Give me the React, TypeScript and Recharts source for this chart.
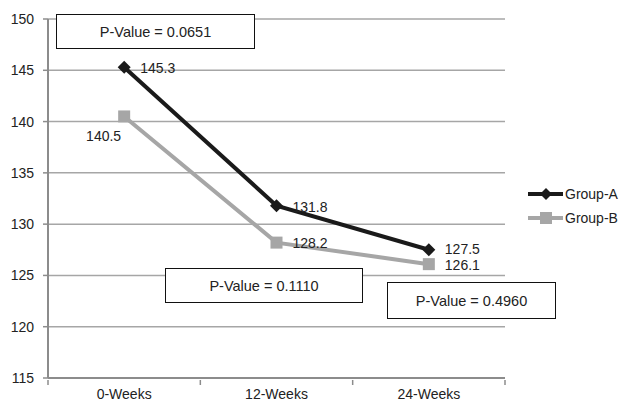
import React from "react";
import { LineChart, Line, XAxis, YAxis, CartesianGrid, LabelList } from "recharts";

const weeks = ["0-Weeks", "12-Weeks", "24-Weeks"];
const groupA = [145.3, 131.8, 127.5];
const groupB = [140.5, 128.2, 126.1];
const yTicks = [115, 120, 125, 130, 135, 140, 145, 150];
const pValues = ["0.0651", "0.1110", "0.4960"];

const data = weeks.map((w, i) => ({ x: i, week: w, a: groupA[i], b: groupB[i] }));

const FONT = "'Liberation Sans', Arial, sans-serif";
const BLACK = "#1a1a1a";
const GREY = "#a6a6a6";
const AXIS = "#8c8c8c";

// p-value boxes, page coords
const boxes = [
  { left: 56, top: 14, width: 199, height: 35 },
  { left: 165, top: 268, width: 198, height: 35 },
  { left: 387, top: 282, width: 169, height: 37 },
];

const Diamond = (props: any) => {
  const { cx, cy } = props;
  if (cx == null || cy == null) return null;
  const s = 6.5;
  return <path d={`M${cx},${cy - s}L${cx + s},${cy}L${cx},${cy + s}L${cx - s},${cy}Z`} fill={BLACK} />;
};

const Square = (props: any) => {
  const { cx, cy } = props;
  if (cx == null || cy == null) return null;
  return <rect x={cx - 6} y={cy - 6} width={12} height={12} fill={GREY} />;
};

const XTick = (props: any) => {
  const { x, y, payload } = props;
  const v = payload.value;
  if (!Number.isInteger(v)) {
    return <line x1={x} x2={x} y1={y} y2={y + 5} stroke={AXIS} strokeWidth={1.5} />;
  }
  return (
    <text x={x} y={y + 19} textAnchor="middle" fontSize={14} fill="#222" fontFamily={FONT}>
      {weeks[v]}
    </text>
  );
};

const labelA = (props: any) => {
  const { x, y, value, index } = props;
  return (
    <text x={x + 16} y={y + (index === 2 ? 4 : 6)} fontSize={14} fill="#222" fontFamily={FONT}>
      {value.toFixed(1)}
    </text>
  );
};

const labelB = (props: any) => {
  const { x, y, value, index } = props;
  if (index === 0) {
    return (
      <text x={x - 3} y={y + 25} textAnchor="end" fontSize={14} fill="#222" fontFamily={FONT}>
        {value.toFixed(1)}
      </text>
    );
  }
  return (
    <text x={x + 16} y={y + (index === 2 ? 6 : 5)} fontSize={14} fill="#222" fontFamily={FONT}>
      {value.toFixed(1)}
    </text>
  );
};

export default function App() {
  return (
    <div style={{ position: "absolute", left: 0, top: 0, width: 623, height: 403, background: "#fff", fontFamily: FONT }}>
      <LineChart width={623} height={403} data={data} margin={{ top: 19, right: 118, bottom: 0, left: 0 }}>
        <CartesianGrid vertical={false} stroke={GREY} strokeWidth={1.5} />
        <XAxis
          dataKey="x"
          type="number"
          domain={[-0.5, 2.5]}
          ticks={[-0.5, 0, 0.5, 1, 1.5, 2, 2.5]}
          interval={0}
          height={25}
          tickLine={false}
          tickSize={0}
          tick={<XTick />}
          axisLine={{ stroke: AXIS, strokeWidth: 2 }}
        />
        <YAxis
          domain={[115, 150]}
          ticks={yTicks}
          width={48}
          interval={0}
          tickSize={5}
          tickMargin={9}
          axisLine={{ stroke: AXIS, strokeWidth: 2 }}
          tickLine={{ stroke: AXIS, strokeWidth: 1.5 }}
          tick={{ fontSize: 14, fill: "#222", fontFamily: FONT }}
        />
        <Line dataKey="b" stroke={GREY} strokeWidth={4} dot={<Square />} isAnimationActive={false}>
          <LabelList dataKey="b" content={labelB} />
        </Line>
        <Line dataKey="a" stroke={BLACK} strokeWidth={4} dot={<Diamond />} isAnimationActive={false}>
          <LabelList dataKey="a" content={labelA} />
        </Line>
      </LineChart>

      {boxes.map((b, i) => (
        <div
          key={i}
          style={{
            position: "absolute",
            left: b.left,
            top: b.top,
            width: b.width,
            height: b.height,
            boxSizing: "border-box",
            border: "1px solid #111",
            background: "#fff",
            display: "flex",
            alignItems: "center",
            justifyContent: "center",
            fontSize: 14.5,
            color: "#222",
          }}
        >
          P-Value = {pValues[i]}
        </div>
      ))}

      <svg style={{ position: "absolute", left: 520, top: 180 }} width={103} height={50}>
        <line x1={8} x2={43} y1={14} y2={14} stroke={BLACK} strokeWidth={4} />
        <path d="M26,8L32,14L26,20L20,14Z" fill={BLACK} />
        <text x={45} y={19} fontSize={14} fill="#222" fontFamily={FONT}>Group-A</text>
        <line x1={8} x2={43} y1={38} y2={38} stroke={GREY} strokeWidth={4} />
        <rect x={20} y={32} width={12} height={12} fill={GREY} />
        <text x={45} y={43} fontSize={14} fill="#222" fontFamily={FONT}>Group-B</text>
      </svg>
    </div>
  );
}
